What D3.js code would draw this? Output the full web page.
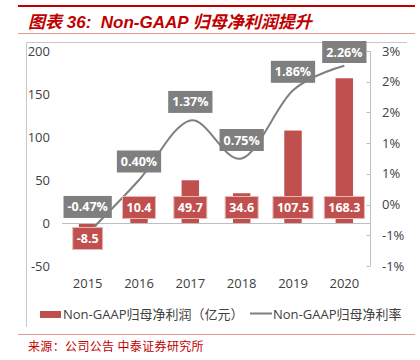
<!DOCTYPE html>
<html><head><meta charset="utf-8">
<script src="https://cdn.jsdelivr.net/npm/d3@7"></script>
<style>
html,body{margin:0;padding:0;background:#fff;}
svg{display:block;}
</style></head>
<body>
<svg id="c" width="420" height="360"></svg>
<script>
const years = ["2015","2016","2017","2018","2019","2020"];
const profit = [-8.5, 10.4, 49.7, 34.6, 107.5, 168.3];
const margin = [-0.0047, 0.0040, 0.0137, 0.0075, 0.0186, 0.0226];
const leftTicks = [-50, 0, 50, 100, 150, 200];
const rightTicks = [-0.01, -0.005, 0, 0.005, 0.01, 0.015, 0.02, 0.025];
const rightTickLabels = ["-1%", "-1%", "0%", "1%", "1%", "2%", "2%", "3%"];
const title = "图表 36:  Non-GAAP 归母净利润提升";
const legendBar = "Non-GAAP归母净利润（亿元）";
const legendLine = "Non-GAAP归母净利率";
const source = "来源：公司公告 中泰证券研究所";

const svg = d3.select("#c");
const red = "#c0504d", grey = "#7f7f7f", txt = "#404040";
const font = "'Open Sans', 'Noto Sans CJK SC', sans-serif";

// header
svg.append("line").attr("x1",18).attr("x2",415).attr("y1",6).attr("y2",6)
  .attr("stroke","#c00000").attr("stroke-width",2.2);
svg.append("text").attr("x",28).attr("y",27.5).text(title)
  .style("white-space","pre")
  .attr("fill","#c00000").attr("font-size",17).attr("font-weight","bold")
  .attr("font-style","italic").attr("font-family","'Liberation Sans','Noto Sans CJK SC',sans-serif");
svg.append("line").attr("x1",18).attr("x2",415).attr("y1",33.5).attr("y2",33.5)
  .attr("stroke","#e59a9a").attr("stroke-width",1);

// frame
svg.append("path").attr("d","M26.5,327 V42.5 H407").attr("fill","none")
  .attr("stroke","#c8c8c8").attr("stroke-width",1);

const x = d3.scaleBand().domain(years).range([62,370]).padding(0);
const yL = d3.scaleLinear().domain([-50,200]).range([266,51]);
const yR = d3.scaleLinear().domain([-0.01,0.025]).range([266,51]);
const cx = d => x(d) + x.bandwidth()/2;
const bw = x.bandwidth()*0.34;

// left axis labels
svg.append("g").selectAll("text").data(leftTicks).join("text")
  .attr("x",50).attr("y",d=>yL(d)).attr("dy","0.35em").attr("text-anchor","end")
  .attr("font-size",13).attr("font-family",font).attr("fill",txt).text(d=>d);

// right axis
const gR = svg.append("g");
gR.append("line").attr("x1",370.5).attr("x2",370.5).attr("y1",yR(0.025)).attr("y2",yR(-0.01))
  .attr("stroke","#bfbfbf");
gR.selectAll("line.t").data(rightTicks).join("line").attr("class","t")
  .attr("x1",366.5).attr("x2",370.5).attr("y1",d=>Math.round(yR(d))+0.5).attr("y2",d=>Math.round(yR(d))+0.5)
  .attr("stroke","#bfbfbf");
gR.selectAll("text").data(rightTicks).join("text")
  .attr("x",382).attr("y",d=>yR(d)).attr("dy","0.35em")
  .attr("font-size",13).attr("font-family",font).attr("fill",txt)
  .text((d,i)=>rightTickLabels[i]);

// bars
svg.append("g").selectAll("rect").data(profit).join("rect")
  .attr("x",(d,i)=>cx(years[i])-bw/2).attr("width",bw)
  .attr("y",d=>Math.min(yL(d),yL(0))).attr("height",d=>Math.abs(yL(d)-yL(0)))
  .attr("fill",red);

// zero line
svg.append("line").attr("x1",62).attr("x2",370).attr("y1",Math.round(yL(0))+0.5).attr("y2",Math.round(yL(0))+0.5)
  .attr("stroke","#bfbfbf").attr("stroke-width",1);

// x labels
svg.append("g").selectAll("text").data(years).join("text")
  .attr("x",d=>cx(d)).attr("y",283).attr("dy","0.35em").attr("text-anchor","middle")
  .attr("font-size",13).attr("font-family",font).attr("fill",txt).text(d=>d);

// line
const line = d3.line().x((d,i)=>cx(years[i])).y(d=>yR(d)).curve(d3.curveCatmullRom.alpha(0));
svg.append("path").datum(margin).attr("d",line).attr("fill","none")
  .attr("stroke",grey).attr("stroke-width",2);

// label helper
function boxLabel(g, cxv, cyv, text, fill, stroke){
  const gg = g.append("g");
  const r = gg.append("rect").attr("fill",fill);
  const t = gg.append("text").attr("x",cxv).attr("y",cyv).attr("dy","0.36em")
    .attr("text-anchor","middle").attr("font-size",12.5).attr("font-weight","bold")
    .attr("font-family",font).attr("fill","#fff").text(text);
  const w = t.node().getComputedTextLength() + 8, h = 22;
  r.attr("x",cxv-w/2).attr("y",cyv-h/2).attr("width",w).attr("height",h);
  if (stroke) r.attr("stroke",stroke).attr("stroke-width",1);
}
const lg = svg.append("g");
// bar labels (inside base)
profit.forEach((v,i)=>{
  const cy = yL(0) + (v>=0 ? -15.5 : 15.5);
  boxLabel(lg, cx(years[i]), cy, d3.format(".1f")(v).replace("−","-"), red, "#e6b9b8");
});
// line labels (above)
margin.forEach((v,i)=>{
  let cy = yR(v) - 18.5;
  if (i===0) cy -= 8;
  cy = Math.max(cy, 52);
  boxLabel(lg, cx(years[i]), cy, d3.format(".2%")(v).replace("−","-"), grey, null);
});

// legend
svg.append("rect").attr("x",40).attr("y",311).attr("width",21).attr("height",7).attr("fill",red);
svg.append("text").attr("x",63).attr("y",314.5).attr("dy","0.35em").attr("font-size",13)
  .attr("font-family",font).attr("fill",txt).text(legendBar);
svg.append("line").attr("x1",250).attr("x2",272).attr("y1",313.5).attr("y2",313.5)
  .attr("stroke",grey).attr("stroke-width",2);
svg.append("text").attr("x",273).attr("y",314.5).attr("dy","0.35em").attr("font-size",13)
  .attr("font-family",font).attr("fill",txt).text(legendLine);

// footer
svg.append("line").attr("x1",18).attr("x2",415).attr("y1",334.5).attr("y2",334.5)
  .attr("stroke","#e59a9a").attr("stroke-width",1);
svg.append("text").attr("x",28).attr("y",347).attr("dy","0.35em").attr("font-size",12)
  .attr("letter-spacing",0.35)
  .attr("font-family","'Noto Sans CJK SC',sans-serif").attr("fill","#c00000").text(source);
</script>
</body></html>
